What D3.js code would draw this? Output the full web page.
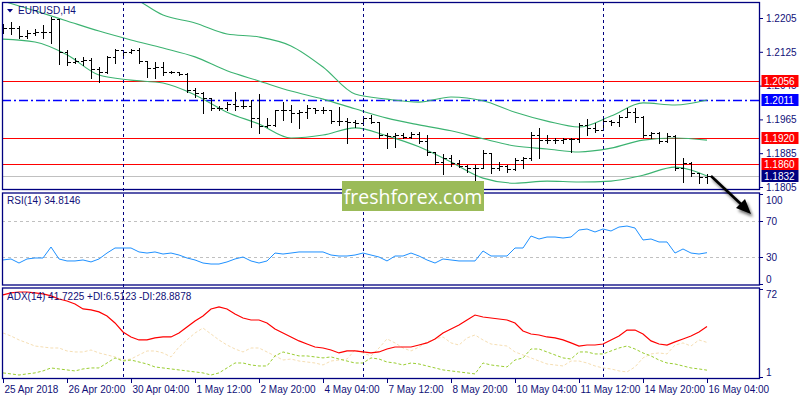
<!DOCTYPE html>
<html><head><meta charset="utf-8">
<script src="https://cdn.jsdelivr.net/npm/d3@7"></script>
<style>body{margin:0;background:#fff}svg{display:block}</style>
</head><body><svg id="c" width="800" height="400"></svg>
<script>
// ---------- DATA ----------
const symbolTitle = "EURUSD,H4";
const rsiTitle = "RSI(14) 34.8146";
const adxTitle = "ADX(14) 41.7225 +DI:6.5123 -DI:28.8878";
const watermark = "freshforex.com";
const timeLabels = ["25 Apr 2018","26 Apr 20:00","30 Apr 04:00","1 May 12:00","2 May 20:00","4 May 04:00","7 May 12:00","8 May 20:00","10 May 04:00","11 May 12:00","14 May 20:00","16 May 04:00"];
const timeLabelBars = [0,8,16,24,32,40,48,56,64,72,80,88];
const weekStartBars = [15,45,75];
const priceTicks = [1.2205,1.2125,1.2045,1.1965,1.1885,1.1805];
const rsiTicks = [100,70,30,0];
const rsiLevels = [70,30];
const adxTicks = [72,1];
const redLevels = [1.2056,1.1920,1.1860];
const blueLevel = 1.2011;
const bidPrice = 1.1832;

const opens = [1.2177,1.2181,1.2181,1.2162,1.2169,1.2172,1.2172,1.2203,1.2125,1.2101,
 1.2103,1.2106,1.2084,1.2077,1.2113,1.2129,1.2125,1.2129,1.2103,1.2087,
 1.2089,1.2077,1.2077,1.2072,1.2035,1.2027,1.2016,1.1992,1.1992,1.2001,
 1.1997,1.1997,1.1968,1.1949,1.1952,1.1987,1.1987,1.1980,1.1982,1.1992,
 1.1987,1.1987,1.1961,1.1961,1.1959,1.1956,1.1968,1.1959,1.1928,1.1926,
 1.1928,1.1923,1.1930,1.1914,1.1888,1.1864,1.1874,1.1862,1.1855,1.1850,
 1.1850,1.1885,1.1850,1.1855,1.1847,1.1869,1.1874,1.1928,1.1916,1.1916,
 1.1916,1.1919,1.1919,1.1952,1.1945,1.1940,1.1961,1.1959,1.1971,1.1982,
 1.1971,1.1928,1.1933,1.1914,1.1926,1.1850,1.1862,1.1838,1.1829];
const highs = [1.2191,1.2196,1.2186,1.2177,1.2179,1.2188,1.2207,1.2203,1.2129,1.2110,
 1.2113,1.2110,1.2089,1.2115,1.2132,1.2129,1.2132,1.2134,1.2103,1.2101,
 1.2101,1.2080,1.2077,1.2075,1.2039,1.2030,1.2016,1.1997,1.2006,1.2030,
 1.2011,1.2011,1.2025,1.1968,1.1987,1.2006,1.1999,1.1987,1.1999,1.1992,
 1.1994,1.1987,1.1994,1.1968,1.1964,1.1971,1.1975,1.1959,1.1933,1.1933,
 1.1933,1.1935,1.1935,1.1928,1.1888,1.1883,1.1881,1.1869,1.1857,1.1857,
 1.1893,1.1885,1.1864,1.1856,1.1874,1.1876,1.1935,1.1945,1.1928,1.1921,
 1.1921,1.1921,1.1956,1.1966,1.1956,1.1968,1.1964,1.1975,1.1992,1.1992,
 1.1973,1.1935,1.1935,1.1933,1.1928,1.1874,1.1864,1.1838,1.1836];
const lows = [1.2169,1.2167,1.2158,1.2158,1.2165,1.2158,1.2146,1.2096,1.2094,1.2098,
 1.2094,1.2063,1.2054,1.2075,1.2098,1.2117,1.2122,1.2098,1.2065,1.2063,
 1.2070,1.2075,1.2070,1.2030,1.2018,1.1980,1.1987,1.1987,1.1987,1.1987,
 1.1992,1.1947,1.1933,1.1947,1.1950,1.1964,1.1959,1.1945,1.1968,1.1980,
 1.1980,1.1956,1.1952,1.1909,1.1947,1.1952,1.1956,1.1921,1.1897,1.1900,
 1.1921,1.1921,1.1909,1.1881,1.1860,1.1836,1.1855,1.1852,1.1840,1.1822,
 1.1850,1.1838,1.1845,1.1840,1.1845,1.1850,1.1869,1.1874,1.1909,1.1909,
 1.1909,1.1888,1.1912,1.1928,1.1935,1.1940,1.1952,1.1949,1.1971,1.1959,
 1.1923,1.1921,1.1909,1.1912,1.1845,1.1817,1.1831,1.1814,1.1814];
const closes = [1.2181,1.2181,1.2162,1.2169,1.2172,1.2172,1.2203,1.2125,1.2101,1.2103,
 1.2106,1.2084,1.2077,1.2113,1.2129,1.2125,1.2129,1.2103,1.2087,1.2089,
 1.2077,1.2077,1.2072,1.2035,1.2027,1.2016,1.1992,1.1992,1.2001,1.1997,
 1.1997,1.1968,1.1949,1.1952,1.1987,1.1987,1.1980,1.1982,1.1992,1.1987,
 1.1987,1.1961,1.1961,1.1959,1.1956,1.1968,1.1959,1.1928,1.1926,1.1928,
 1.1923,1.1930,1.1914,1.1888,1.1864,1.1874,1.1862,1.1855,1.1850,1.1850,
 1.1885,1.1850,1.1855,1.1847,1.1869,1.1874,1.1928,1.1916,1.1916,1.1916,
 1.1919,1.1919,1.1952,1.1945,1.1940,1.1961,1.1959,1.1971,1.1982,1.1971,
 1.1928,1.1933,1.1914,1.1926,1.1850,1.1862,1.1838,1.1829,1.1832];

// Bollinger bands read every 4 bars
const bandBars = [0,4,8,12,16,20,24,28,32,36,40,44,48,52,56,60,64,68,72,76,80,84,88];
const bbUpper = [1.2295,1.2290,1.2283,1.2271,1.2255,1.2212,1.2193,1.2167,1.2160,1.2139,1.2089,1.2025,1.2013,1.2006,1.2018,1.2009,1.1982,1.1961,1.1947,1.1973,1.2004,1.1999,1.2011];
const bbMiddle = [1.2245,1.2222,1.2198,1.2174,1.2153,1.2134,1.2113,1.2080,1.2056,1.2032,1.2013,1.1990,1.1968,1.1952,1.1938,1.1919,1.1902,1.1895,1.1888,1.1897,1.1916,1.1921,1.1916];
const bbLower = [1.2155,1.2148,1.2118,1.2070,1.2058,1.2051,1.2023,1.1982,1.1954,1.1921,1.1928,1.1945,1.1926,1.1900,1.1864,1.1826,1.1814,1.1819,1.1817,1.1819,1.1833,1.1852,1.1831];

const rsi = [26.7,27.8,23.3,27.8,28.9,28.9,41.1,27.8,25.6,25.6,
 26.7,24.5,27.8,34.4,40,40,40,35.6,34.4,35.6,
 33.3,34.4,32.2,28.9,26.7,23.3,22.2,22.2,24.5,27.8,
 30,25.6,23.3,25.6,34.4,33.3,34.4,35.6,35.6,35.6,
 35.6,32.2,31.1,31.1,32.2,34.4,32.2,30,25.6,31.1,
 31.1,34.4,31.1,26.7,23.3,27.8,26.7,25.6,25.6,25.6,
 36.7,31.1,31.1,31.1,40,40,53.3,50,52.2,52.2,
 51.1,52.2,60,61.1,57.8,61.1,58.9,63.3,64.4,62.2,
 48.9,50,46.7,46.7,34.4,38.9,34.4,33.3,34.8];
const adx = [67.2,68.8,69.6,69.6,68.8,68,66.4,63.9,62.3,59.9,
 55.9,55.1,53.5,50.2,44.6,37.3,33.3,30.9,30.9,32.5,
 33.3,33.3,36.5,41.4,46.2,50.2,55.9,57.5,55.9,51.8,
 48.6,47,47,44.6,39.7,36.5,33.3,30.1,27.6,25.2,
 24.4,22.8,20.4,22,22,21.2,20.4,21.2,23.6,25.2,
 25.2,25.2,26.8,28.5,31.7,36.5,39.7,43,47,51,
 49.4,48.6,47.8,47,44.6,38.1,35.7,34.9,33.3,32.5,
 30.9,28.5,26,26.8,26.8,27.6,30.9,34.1,38.9,38.9,
 35.7,30.1,27.6,26.8,29.3,31.7,34.1,37.3,41.7];
const plusDI = [4.3,3.5,2.6,3.5,4.3,5.9,8.3,7.5,6.7,5.9,
 7.5,8.3,8.3,12.3,16.4,13.9,14.7,13.1,11.5,9.1,
 8.3,7.5,6.7,5.9,5.1,4.3,2.6,4.3,8.3,12.3,
 12.3,10.7,9.9,9.9,18,21.2,19.6,18,18,17.2,
 16.4,17.2,15.5,13.9,12.3,12.3,16.4,15.5,13.1,12.3,
 10.7,12.3,11.5,9.9,8.3,6.7,5.9,5.1,4.3,3.5,
 12.3,10.7,9.9,9.1,14.7,16.4,23.6,23.6,21.2,18.8,
 16.4,15.5,21.2,21.2,19.6,19.6,22,24.4,26,23.6,
 20.4,18,14.7,12.3,11.5,9.9,8.3,7.5,6.5];
const minusDI = [36.5,34.1,30.9,28.5,26,25.2,24.4,24.4,22,21.2,
 21.2,22.8,20.4,18.8,17.2,14.7,15.5,18.8,22,22,
 20.4,17.2,25.2,30.9,36.5,40.5,35.7,30.9,26.8,23.6,
 21.2,24.4,24.4,21.2,18,14.7,15.5,13.9,13.1,12.3,
 10.7,13.9,14.7,15.5,22.8,20.4,18,24.4,31.7,28.5,
 24.4,22,25.2,29.3,31.7,33.3,28.5,26.8,32.5,34.9,
 30.9,27.6,26.8,26,21.2,18.8,16.4,13.9,11.5,10.7,
 9.9,13.9,13.9,12.3,9.9,8.3,7.5,5.9,5.1,9.1,
 16.4,19.6,20.4,19.6,26.8,28.5,26,30.9,28.9];

// ---------- STYLE ----------
const C = {
  frame:"#000080", text:"#101078", bar:"#000000", band:"#3cb371",
  red:"#ff0000", blue:"#0000ff", bid:"#c0c0c0", bidBox:"#000080",
  rsi:"#1e90ff", level:"#c0c0c0", adx:"#ff0000", plus:"#9acd32", minus:"#f5deb3",
  wm:"#9bbb59"
};
const FONT = "'Liberation Sans', Arial, sans-serif";

const svg = d3.select("#c");
const L = 2, R = 760;
const P = {main:[2,190], rsi:[192.5,285.5], adx:[287.5,379]};

const x = d3.scaleLinear().domain([0,88]).range([3,707]);
const yP = d3.scaleLinear().domain([1.1805,1.2205]).range([187,18]);
const yR = d3.scaleLinear().domain([0,100]).range([284,194]);
const yA = d3.scaleLinear().domain([1,72]).range([377,289]);

const defs = svg.append("defs");
Object.entries(P).forEach(([k,[t,b]])=>{
  defs.append("clipPath").attr("id","clip-"+k).append("rect")
    .attr("x",L).attr("y",t).attr("width",R-L).attr("height",b-t);
});
const f = defs.append("filter").attr("id","shadow").attr("x","-50%").attr("y","-50%").attr("width","200%").attr("height","200%");
f.append("feGaussianBlur").attr("in","SourceAlpha").attr("stdDeviation",1.6).attr("result","b");
f.append("feOffset").attr("in","b").attr("dx",2).attr("dy",3).attr("result","o");
f.append("feComponentTransfer").attr("in","o").attr("result","s").append("feFuncA").attr("type","linear").attr("slope",0.55);
const m = f.append("feMerge"); m.append("feMergeNode").attr("in","s"); m.append("feMergeNode").attr("in","SourceGraphic");

const px = v => Math.round(v)+0.5;

// ---------- MAIN PANEL ----------
const gM = svg.append("g").attr("clip-path","url(#clip-main)");
// separators
const sep = svg.append("g");
weekStartBars.forEach(b=>{
  sep.append("line").attr("x1",px(x(b))).attr("x2",px(x(b))).attr("y1",2).attr("y2",379)
    .attr("stroke",C.frame).attr("stroke-width",1).attr("stroke-dasharray","3,3");
});
// horizontal levels
gM.append("line").attr("x1",L).attr("x2",R).attr("y1",px(yP(bidPrice))).attr("y2",px(yP(bidPrice))).attr("stroke",C.bid);
redLevels.forEach(v=>{
  gM.append("line").attr("x1",L).attr("x2",R).attr("y1",px(yP(v))).attr("y2",px(yP(v))).attr("stroke",C.red).attr("stroke-width",1.2);
});
gM.append("line").attr("x1",L).attr("x2",R).attr("y1",px(yP(blueLevel))).attr("y2",px(yP(blueLevel)))
  .attr("stroke",C.blue).attr("stroke-width",1.3).attr("stroke-dasharray","9,3,2,3");

// bands
const bandLine = arr => d3.line().x((d,i)=>x(bandBars[i])).y(d=>yP(d)).curve(d3.curveMonotoneX)(arr);
[bbUpper,bbMiddle,bbLower].forEach(a=>{
  gM.append("path").attr("d",bandLine(a)).attr("fill","none").attr("stroke",C.band).attr("stroke-width",1.1);
});

// bars
const bars = gM.append("g").attr("stroke",C.bar).attr("stroke-width",1).attr("shape-rendering","crispEdges");
closes.forEach((c,i)=>{
  const xi = Math.round(x(i))+0.5;
  bars.append("line").attr("x1",xi).attr("x2",xi).attr("y1",Math.round(yP(highs[i]))).attr("y2",Math.round(yP(lows[i]))+1);
  const yo = Math.round(yP(opens[i]))+0.5, yc = Math.round(yP(c))+0.5;
  bars.append("line").attr("x1",xi-3).attr("x2",xi).attr("y1",yo).attr("y2",yo);
  bars.append("line").attr("x1",xi).attr("x2",xi+3.5).attr("y1",yc).attr("y2",yc);
});

// ---------- RSI PANEL ----------
const gR = svg.append("g").attr("clip-path","url(#clip-rsi)");
rsiLevels.forEach(v=>{
  gR.append("line").attr("x1",L).attr("x2",R).attr("y1",px(yR(v))).attr("y2",px(yR(v)))
    .attr("stroke",C.level).attr("stroke-dasharray","3,3");
});
gR.append("path").attr("d",d3.line().x((d,i)=>x(i)).y(d=>yR(d))(rsi)).attr("fill","none").attr("stroke",C.rsi).attr("stroke-width",1);

// ---------- ADX PANEL ----------
const gA = svg.append("g").attr("clip-path","url(#clip-adx)");
const aLine = d3.line().x((d,i)=>x(i)).y(d=>yA(d));
gA.append("path").attr("d",aLine(minusDI)).attr("fill","none").attr("stroke",C.minus).attr("stroke-width",1).attr("stroke-dasharray","3,2");
gA.append("path").attr("d",aLine(plusDI)).attr("fill","none").attr("stroke",C.plus).attr("stroke-width",1).attr("stroke-dasharray","3,2");
gA.append("path").attr("d",aLine(adx)).attr("fill","none").attr("stroke",C.adx).attr("stroke-width",1.2);

// ---------- FRAMES ----------
Object.values(P).forEach(([t,b])=>{
  svg.append("rect").attr("x",L+0.5).attr("y",t+0.5).attr("width",R-L-1).attr("height",b-t-1)
    .attr("fill","none").attr("stroke",C.frame).attr("stroke-width",1.3);
});

// ---------- AXES ----------
function styleAxis(g){
  g.select(".domain").remove();
  g.selectAll("line").attr("stroke",C.frame);
  g.selectAll("text").attr("fill",C.text).style("font-family",FONT).style("font-size","10px");
}
const axP = svg.append("g").attr("transform",`translate(${R},0)`)
  .call(d3.axisRight(yP).tickValues(priceTicks).tickSize(3).tickPadding(3).tickFormat(d3.format(".4f")));
styleAxis(axP);

// price label boxes
const boxes = [...redLevels.map(v=>({v,c:C.red})),{v:blueLevel,c:C.blue},{v:bidPrice,c:C.bidBox}];
boxes.forEach(b=>{
  const yy = Math.round(yP(b.v));
  svg.append("rect").attr("x",R+1.5).attr("y",yy-6).attr("width",37).attr("height",12).attr("fill",b.c);
  svg.append("text").attr("x",R+4).attr("y",yy+4).text(d3.format(".4f")(b.v))
    .attr("fill","#fff").style("font-family",FONT).style("font-size","10px");
});

const axR = svg.append("g").attr("transform",`translate(${R},0)`)
  .call(d3.axisRight(yR).tickValues(rsiTicks).tickSize(3).tickPadding(3));
styleAxis(axR);
axR.selectAll(".tick").filter(d=>d===100).select("text").attr("dy","0.9em");
axR.selectAll(".tick").filter(d=>d===0).select("text").attr("dy","-0.15em");

const axA = svg.append("g").attr("transform",`translate(${R},0)`)
  .call(d3.axisRight(yA).tickValues(adxTicks).tickSize(3).tickPadding(3));
styleAxis(axA);
axA.selectAll(".tick").filter(d=>d===72).select("text").attr("dy","0.85em");
axA.selectAll(".tick").filter(d=>d===1).select("text").attr("dy","-0.2em");

const axX = svg.append("g").attr("transform",`translate(0,${P.adx[1]})`)
  .call(d3.axisBottom(x).tickValues(timeLabelBars).tickSize(4).tickPadding(3).tickFormat((d,i)=>timeLabels[i]));
styleAxis(axX);
axX.selectAll("text").attr("text-anchor","start").attr("x",1);

// ---------- TITLES ----------
svg.append("path").attr("d","M7,9 L13,9 L10,12.5 Z").attr("fill",C.frame);
svg.append("text").attr("x",18).attr("y",14).text(symbolTitle).attr("fill",C.text).style("font-family",FONT).style("font-size","10px");
svg.append("text").attr("x",7).attr("y",204).text(rsiTitle).attr("fill",C.text).style("font-family",FONT).style("font-size","10px");
svg.append("text").attr("x",7).attr("y",300).text(adxTitle).attr("fill",C.text).style("font-family",FONT).style("font-size","10px");

// ---------- WATERMARK ----------
svg.append("rect").attr("x",342).attr("y",181).attr("width",142).attr("height",30).attr("fill",C.wm);
svg.append("text").attr("x",413).attr("y",203.5).attr("text-anchor","middle").text(watermark)
  .attr("fill","#fff").style("font-family","'Open Sans', sans-serif").style("font-size","19.5px");

// ---------- ARROW ----------
const ga = svg.append("g").attr("filter","url(#shadow)");
ga.append("line").attr("x1",711).attr("y1",176).attr("x2",742).attr("y2",205).attr("stroke","#000").attr("stroke-width",2.6);
ga.append("path").attr("d","M751,214 L736,208 L745,199 Z").attr("fill","#000");
</script></body></html>
